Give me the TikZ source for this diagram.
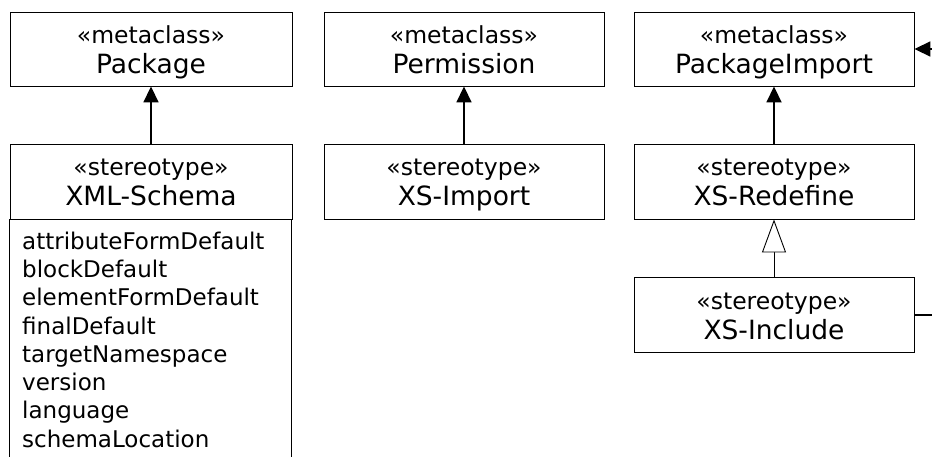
\documentclass[tikz,border=0pt]{standalone}
\usepackage{fontspec}
\setmainfont{DejaVu Sans}
\usetikzlibrary{arrows.meta}

\newcommand{\stereofont}{\fontsize{23.5}{30}\selectfont}
\newcommand{\namefont}{\fontsize{26.5}{30}\selectfont}
\newcommand{\umlstrut}{\rule[-6pt]{0pt}{30pt}}
\newcommand{\umltext}[2]{{\stereofont\umlstrut «#1»}\\{\namefont\umlstrut #2}}

\tikzset{
  umlbox/.style={draw, line width=0.9pt, minimum width=280pt, minimum height=74pt,
    inner sep=0pt, align=center, font=\stereofont},
  extends/.style={line width=1.8pt, -{Triangle[length=16pt,width=15pt]}},
  generalizes/.style={line width=0.9pt, -{Triangle[open,length=33pt,width=24pt,fill=white]}}
}

\begin{document}
\begin{tikzpicture}[x=1pt,y=-1pt]

	%page frame
	\useasboundingbox (0,0) rectangle (932,456);
	\clip (0,0) rectangle (932,456);

	%metaclasses
	\node[umlbox, minimum width=282pt] (pkg) at (151,49) {\umltext{metaclass}{Package}};
	\node[umlbox] (perm) at (464,49) {\umltext{metaclass}{Permission}};
	\node[umlbox] (pimp) at (774,49) {\umltext{metaclass}{PackageImport}};

	%stereotypes
	\node[umlbox, minimum width=282pt, minimum height=75pt] (xsd) at (151,181.5) {\umltext{stereotype}{XML-Schema}};
	\node[umlbox, minimum height=75pt] (xsimp) at (464,181.5) {\umltext{stereotype}{XS-Import}};
	\node[umlbox, minimum height=75pt] (xsred) at (774,181.5) {\umltext{stereotype}{XS-Redefine}};
	\node[umlbox, minimum height=75pt] (xsinc) at (774,315) {\umltext{stereotype}{XS-Include}};

	%attributes of XML-Schema
	\draw[line width=0.9pt] (xsd.south west) rectangle ++(282,260);
	\node[anchor=north west, inner sep=0pt, align=left, font=\fontsize{23}{28.3}\selectfont] (attrs) at (22,231.5)
	  {attributeFormDefault\\blockDefault\\elementFormDefault\\finalDefault\\
	   targetNamespace\\version\\language\\schemaLocation};

	%extensions
	\draw[extends] (xsd) -- (pkg);
	\draw[extends] (xsimp) -- (perm);
	\draw[extends] (xsred) -- (pimp);
	\draw[generalizes] (xsinc) -- (xsred);

	%links leaving the page
	\coordinate (pimp-in) at (945,49);
	\coordinate (xsinc-out) at (945,315);
	\draw[extends] (pimp-in) -- (pimp.east);
	\draw[line width=1.8pt] (xsinc.east) -- (xsinc-out);

\end{tikzpicture}
\end{document}
